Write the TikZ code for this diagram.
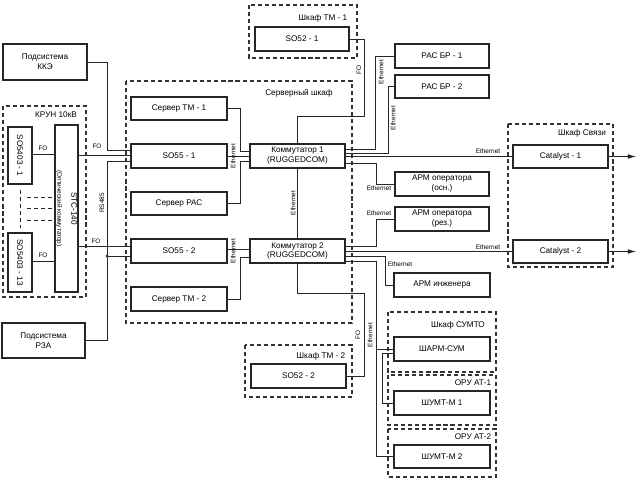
\documentclass[tikz,border=0pt]{standalone}
\usepackage{fontspec}
\setmainfont{Liberation Sans}
\usetikzlibrary{arrows.meta}

\tikzset{
  box/.style={draw=black!85, line width=1pt, inner sep=0pt, align=center, font=\fontsize{7}{8.5}\selectfont},
  sz/.style 2 args={minimum width=#1*0.3mm, minimum height=#2*0.3mm},
  cab/.style={draw=black!80, line width=1pt, dash pattern=on 3.5pt off 2.5pt},
  cabtxt/.style={font=\fontsize{7}{8.5}\selectfont, inner sep=0pt},
  wire/.style={draw=black!85, line width=0.6pt},
  tag/.style={font=\fontsize{5.5}{6.5}\selectfont, inner sep=0pt},
}

\begin{document}
\begin{tikzpicture}[x=0.3mm,y=-0.3mm]
  \useasboundingbox (0,0) rectangle (638,483);
  % cabinets
  \foreach \xa/\ya/\xb/\yb/\lx/\ly/\lab [count=\i] in {3/106/86/297/56/115/КРУН 10кВ,
      126/81/352/323/299/93/Серверный шкаф, 249/5/357/58/323/18/Шкаф ТМ - 1,
      245/345/352/397/321/356/Шкаф ТМ - 2, 508/124/613/267/582/133/Шкаф Связи,
      388/312/496/372/458/325/Шкаф СУМТО, 388/375/496/425/473/383/ОРУ АТ-1,
      388/429/496/477/473/437/ОРУ АТ-2} {
    \draw[cab] (\xa,\ya) rectangle (\xb,\yb);
    \node[cabtxt] (cab\i) at (\lx,\ly) {\lab};
  }
  % boxes
  \foreach \n/\x/\y/\w/\h/\lab in {kke/45/62/84/36/{Подсистема\\ККЭ},
      rza/43.5/340.5/83/35/{Подсистема\\РЗА},
      stm1/179/108.5/96/23/{Сервер ТМ - 1}, so551/179/156/96/24/{SO55 - 1},
      srac/179/203.5/96/23/{Сервер РАС}, so552/179/251/96/24/{SO55 - 2},
      stm2/179/299/96/24/{Сервер ТМ - 2},
      k1/297.5/156/95/24/{Коммутатор 1\\(RUGGEDCOM)},
      k2/297.5/251/95/24/{Коммутатор 2\\(RUGGEDCOM)},
      so521/302/39/94/24/{SO52 - 1}, so522/298.5/376/95/24/{SO52 - 2},
      rac1/442/56/94/24/{РАС БР - 1}, rac2/442/86.5/94/23/{РАС БР - 2},
      armo/442/184/94/24/{АРМ оператора\\(осн.)},
      armr/442/219/94/24/{АРМ оператора\\(рез.)},
      armi/442/285/96/24/{АРМ инженера}, sharm/442/349/96/24/{ШАРМ-СУМ},
      shumt1/442/403/96/24/{ШУМТ-М 1}, shumt2/442/456.5/96/23/{ШУМТ-М 2},
      cat1/560.5/156.5/95/23/{Catalyst - 1}, cat2/560.5/251.5/95/23/{Catalyst - 2}}
    \node[box,sz={\w}{\h}] (\n) at (\x,\y) {\lab};
  \node[box,sz={24}{57}] (so1) at (20,155.5) {};
  \node[box,sz={24}{59}] (so13) at (20,262.5) {};
  \node[box,sz={23}{167}] (stc) at (66.5,208.5) {};
  \node[rotate=-90,font=\fontsize{7}{8.5}\selectfont] (so1t) at (so1) {SO5403 - 1};
  \node[rotate=-90,font=\fontsize{7}{8.5}\selectfont] (so13t) at (so13) {SO5403 - 13};
  \node[rotate=-90,align=center,inner sep=0pt] (stct) at (stc)
    {{\fontsize{7}{8.5}\selectfont STC-140}\\{\fontsize{5.5}{7}\selectfont (Оптический коммутатор)}};
  % KRUN
  \draw[wire] (so1.east |- 0,154) -- (stc.west |- 0,154);
  \draw[wire] (so13.east |- 0,261) -- (stc.west |- 0,261);
  \foreach \y in {197,208,220}
    \draw[wire,dashed] (27,\y) -- (stc.west |- 0,\y);
  \draw[wire,dashed] (20,190) -- (20,228);
  % inputs of SO55
  \draw[wire] (kke.east) -| (107,150) -- (so551.west |- 0,150);
  \draw[wire] (stc.east |- 0,155) -- (so551.west |- 0,155);
  \draw[wire] (rza.east) -| (107,161) -- (so551.west |- 0,161);
  \draw[wire] (stc.east |- 0,246) -- (so552.west |- 0,246);
  \coordinate (j) at (107,256);
  \draw[wire] (j) -- (so552.west |- j);
  \draw[wire,fill=white] (j) circle (1.2);
  % switches
  \draw[wire] (stm1.east) -| (240,151) -- (k1.west |- 0,151);
  \draw[wire] (so551.east) -- (k1.west);
  \draw[wire] (srac.east) -| (240,161) -- (k1.west |- 0,161);
  \draw[wire] (so552.east |- 0,249) -- (k2.west |- 0,249);
  \draw[wire] (stm2.east) -| (240,257) -- (k2.west |- 0,257);
  \draw[wire] (k1.south) -- (k2.north);
  \draw[wire] (k1.north) |- (364,116) |- (so521.east);
  \draw[wire] (k2.south) |- (364,293) |- (so522.east);
  \draw[wire] (k1.east |- 0,149) -| (375,56) -- (rac1.west);
  \draw[wire] (k1.east |- 0,153) -| (388,86.5) -- (rac2.west);
  \draw[wire] (k1.east |- cat1.west) -- (cat1.west);
  \draw[wire] (k1.east |- 0,163) -| (376,184) -- (armo.west);
  \draw[wire] (k2.east |- 0,246) -| (376,219) -- (armr.west);
  \draw[wire] (k2.east |- cat2.west) -- (cat2.west);
  \draw[wire] (k2.east |- 0,256) -| (385,285) -- (armi.west);
  \draw[wire] (k2.east |- 0,261) -| (376,456.5) -- (shumt2.west);
  \draw[wire] (376,349) -- (sharm.west);
  \draw[wire] (sharm.west |- 0,353) -| (382,403) -- (shumt1.west);
  % outputs
  \coordinate (o1) at (636,156.5);
  \coordinate (o2) at (636,251.5);
  \draw[wire,-{Latex[length=7pt,width=4pt]}] (cat1.east) -- (o1);
  \draw[wire,-{Latex[length=7pt,width=4pt]}] (cat2.east) -- (o2);
  % labels on lines
  \foreach \x/\y/\r/\lab [count=\i] in {43/148/0/FO, 43/255/0/FO, 97/146/0/FO, 96/241/0/FO,
      102/203/90/RS485, 233/156/90/Ethernet, 233/251/90/Ethernet, 293/203/90/Ethernet,
      359/70/90/FO, 358/335/90/FO, 381/72/90/Ethernet, 393/118/90/Ethernet,
      488/151/0/Ethernet, 488/247/0/Ethernet, 379/188/0/Ethernet, 379/213/0/Ethernet,
      400/264/0/Ethernet, 370/335/90/Ethernet}
    \node[tag,rotate=\r] (tag\i) at (\x,\y) {\lab};
\end{tikzpicture}
\end{document}
